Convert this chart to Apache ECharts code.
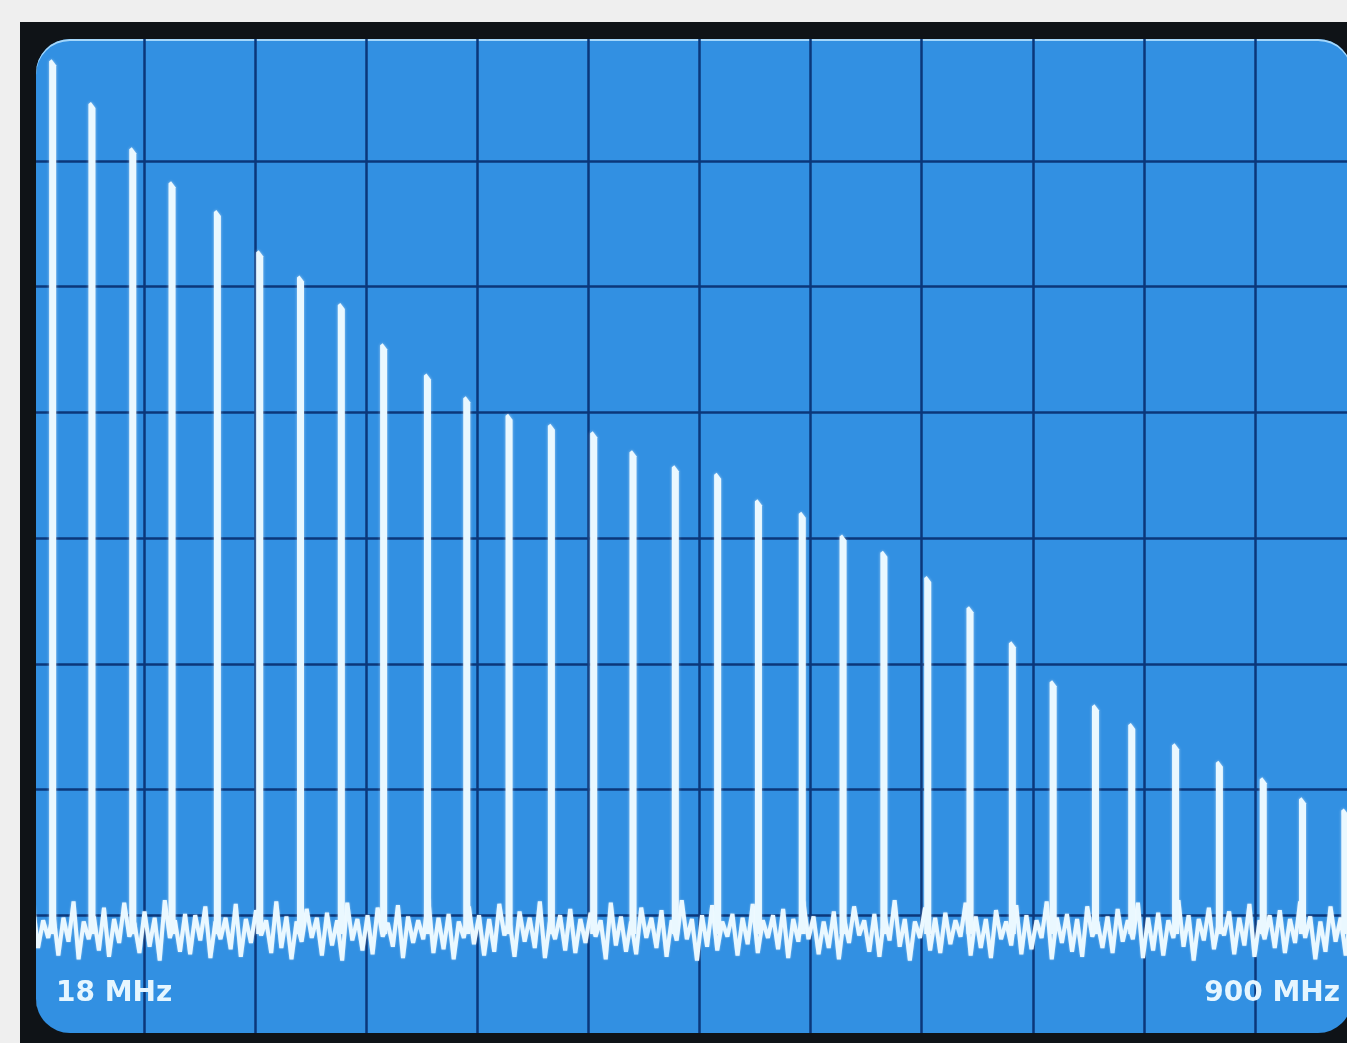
<!DOCTYPE html>
<html>
<head>
<meta charset="utf-8">
<script src="https://cdn.jsdelivr.net/npm/echarts@6/dist/echarts.min.js"></script>
<style>
  html, body { margin: 0; padding: 0; background: #efefef; overflow: hidden; width: 1347px; height: 1043px; }
  #bezel { position: absolute; left: 20px; top: 22px; width: 1345px; height: 1030px; background: #0f1317; }
  #screen { position: absolute; left: 36px; top: 39px; width: 1316px; height: 994px; border-radius: 34px;
            overflow: hidden; background: #3290e2; box-shadow: inset 0 2px 0 rgba(185,228,255,0.85); }
  #chart { position: absolute; left: -36px; top: -39px; width: 1400px; height: 1090px; }
</style>
</head>
<body>
<div id="bezel"></div>
<div id="screen"><div id="chart"></div></div>
<script>
// Spectral lines: frequency (MHz) and level (dB, top graticule line = 0 dB)
const lineFreqMHz = [31, 57, 84, 110, 140, 168, 195, 222, 250, 279, 305, 333, 361, 389, 415, 443,
                     471, 498, 527, 554, 581, 610, 638, 666, 693, 721, 745, 774, 803, 832, 858, 886];
const lineLevelDb = [-2.0, -5.4, -9.0, -11.7, -14.0, -17.2, -19.2, -21.4, -24.6, -27.0, -28.8, -30.2,
                     -31.0, -31.6, -33.1, -34.3, -34.9, -37.0, -38.0, -39.8, -41.1, -43.1, -45.5, -48.3,
                     -51.4, -53.3, -54.8, -56.4, -57.8, -59.1, -60.7, -61.6];
const noiseFloorDb = -71.5;
const startLabel = '18 MHz';
const stopLabel = '900 MHz';
const spanStartMHz = 18;
const spanStopMHz = 900;

// Noise trace: alternating peak / trough readings along the baseline
const noiseHigh = [
  -69.2,-70.4,-69.8,-70.2,-68.9,-70.5,-70.1,-69.4,-70.3,-69.0,
  -70.6,-69.7,-70.2,-68.8,-70.4,-69.9,-70.0,-69.3,-70.5,-70.2,
  -69.1,-70.3,-69.6,-70.4,-68.9,-70.1,-70.5,-69.5,-70.2,-69.8,
  -70.4,-69.0,-70.3,-70.0,-69.4,-70.6,-69.2,-70.1,-70.4,-68.7,
  -70.2,-69.9,-70.5,-69.3,-70.0,-70.3,-69.1,-70.4,-69.7,-70.2,
  -68.9,-70.5,-70.0,-69.5,-70.3,-69.8,-70.4,-69.0,-70.1,-70.5,
  -69.4,-70.2,-69.6,-70.4,-68.8,-70.3,-70.0,-69.2,-70.5,-69.9,
  -70.2,-69.1,-70.4,-70.0,-69.5,-70.3,-68.9,-70.1,-70.5,-69.7,
  -70.2,-69.3,-70.4,-69.9,-70.0,-68.8,-70.3,-70.5,-69.4,-70.2,
  -69.8,-70.4,-69.0,-70.1,-70.3,-69.6,-70.5,-69.2,-70.0,-70.4,
  -68.9,-70.2,-69.9,-70.3,-69.3,-70.5,-70.1,-69.5,-70.4,-69.0,
  -70.2,-69.8,-70.4,-68.8,-70.0,-70.3,-69.4,-70.5,-69.7,-70.2,
  -69.1,-70.4,-70.0,-69.6,-70.3,-68.9,-70.1,-70.5,-69.3,-70.2,
  -69.8,-70.4
];
const noiseLow = [
  -72.6,-71.8,-73.2,-72.1,-73.5,-71.9,-72.8,-73.3,-72.2,-71.7,
  -73.0,-72.5,-73.6,-71.8,-72.9,-73.1,-72.0,-73.4,-71.9,-72.7,
  -73.3,-72.2,-71.6,-73.0,-72.6,-73.5,-72.1,-71.8,-73.2,-72.4,
  -73.6,-72.0,-72.8,-73.1,-71.7,-72.5,-73.4,-72.2,-71.9,-73.0,
  -72.7,-73.5,-71.8,-72.3,-73.2,-72.9,-71.6,-73.3,-72.1,-72.6,
  -73.4,-71.9,-72.8,-73.0,-72.2,-71.7,-73.5,-72.4,-72.9,-73.1,
  -71.8,-72.6,-73.3,-72.0,-71.9,-73.6,-72.5,-72.8,-71.7,-73.2,
  -72.3,-73.0,-71.8,-72.7,-73.4,-72.1,-71.9,-73.1,-72.6,-73.5,
  -72.2,-71.6,-72.9,-73.3,-72.0,-72.5,-73.6,-71.8,-72.8,-73.0,
  -72.3,-71.7,-73.2,-72.6,-73.4,-71.9,-72.4,-73.1,-72.7,-71.8,
  -73.5,-72.2,-72.9,-73.3,-71.7,-72.6,-73.0,-72.1,-71.9,-73.4,
  -72.8,-73.2,-71.8,-72.5,-73.6,-72.0,-72.7,-71.6,-73.1,-72.4,
  -73.3,-71.9,-72.6,-73.0,-72.2,-71.8,-73.5,-72.9,-72.1,-73.2,
  -72.5,-71.7
];

const lineData = lineFreqMHz.map((f, i) => [f, lineLevelDb[i]]);
const noiseData = [];
const noiseCats = [];
for (let i = 0; i < noiseHigh.length; i++) {
  noiseData.push(noiseHigh[i], noiseLow[i]);
  noiseCats.push(String(2 * i), String(2 * i + 1));
}

const gridColor = '#0b377a';
const traceColor = '#eaf8ff';
const labelFont = 'bold 28px "DejaVu Sans", "Liberation Sans", sans-serif';

const chart = echarts.init(document.getElementById('chart'), null, { renderer: 'canvas' });
chart.setOption({
  animation: false,
  backgroundColor: 'transparent',
  grid: { left: 33, top: 35, width: 1333, height: 1006, containLabel: false },
  xAxis: [
    { type: 'value', min: 0, max: 12, interval: 1,
      axisLine: { show: false }, axisTick: { show: false }, axisLabel: { show: false },
      splitLine: { show: true, lineStyle: { color: gridColor, width: 2.5 } } },
    { type: 'value', min: spanStartMHz, max: spanStopMHz, show: false, splitLine: { show: false } },
    { type: 'category', data: noiseCats, boundaryGap: false, show: false }
  ],
  yAxis: [
    { type: 'value', min: -80, max: 0, interval: 10,
      axisLine: { show: false }, axisTick: { show: false }, axisLabel: { show: false },
      splitLine: { show: true, lineStyle: { color: gridColor, width: 2.5 } } }
  ],
  series: [
    {
      name: 'noise', type: 'line', xAxisIndex: 2, yAxisIndex: 0, data: noiseData,
      symbol: 'none', z: 3,
      lineStyle: { color: traceColor, width: 4, shadowColor: 'rgba(255,255,255,0.5)', shadowBlur: 2 }
    },
    {
      name: 'harmonics', type: 'custom', xAxisIndex: 1, yAxisIndex: 0, data: lineData, z: 4,
      renderItem: function (params, api) {
        const top = api.coord([api.value(0), api.value(1)]);
        const base = api.coord([api.value(0), noiseFloorDb]);
        const x = top[0], y = top[1], hw = 3.5;
        return {
          type: 'polygon',
          shape: { points: [[x - hw, y + 1], [x - 1, y - 1], [x + hw, y + 5], [x + hw, base[1]], [x - hw, base[1]]] },
          style: { fill: traceColor, shadowColor: 'rgba(255,255,255,0.55)', shadowBlur: 3 }
        };
      }
    }
  ],
  graphic: [
    { type: 'text', left: 56, top: 980, z: 10,
      style: { text: startLabel, fill: '#e6f6ff', font: labelFont,
               shadowColor: 'rgba(255,255,255,0.6)', shadowBlur: 3 } },
    { type: 'text', right: 60, top: 980, z: 10,
      style: { text: stopLabel, fill: '#e6f6ff', font: labelFont,
               shadowColor: 'rgba(255,255,255,0.6)', shadowBlur: 3 } }
  ]
});
</script>
</body>
</html>
